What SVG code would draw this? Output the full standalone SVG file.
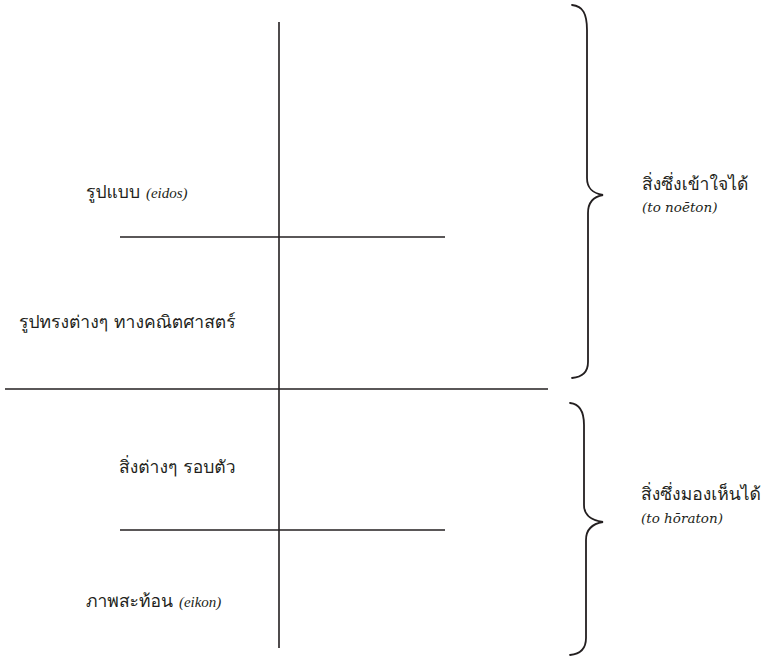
<svg xmlns="http://www.w3.org/2000/svg" width="765" height="658" viewBox="0 0 765 658">
<style>
.ln{stroke:#231f20;stroke-width:1.6;fill:none}
.br{stroke:#231f20;stroke-width:1.8;fill:none;stroke-linecap:round}
.th{font-family:"Loma","Garuda","Norasi","Noto Sans Thai Looped","Noto Serif Thai","Noto Sans Thai","DejaVu Sans",sans-serif;font-size:17.5px;fill:#231f20}
.it{font-family:"Liberation Serif","Times New Roman",serif;font-style:italic;font-size:15px;fill:#231f20}
.it2{font-family:"DejaVu Serif","Liberation Serif",serif;font-style:italic;font-size:13.5px;fill:#231f20}
</style>
<rect width="765" height="658" fill="#ffffff"/>
<g id="connectors">
<line class="ln" x1="279" y1="22" x2="279" y2="648"/>
<line class="ln" x1="120" y1="237" x2="445" y2="237"/>
<line class="ln" x1="5" y1="389" x2="548" y2="389"/>
<line class="ln" x1="120" y1="530" x2="445" y2="530"/>
</g>
<g id="brace-upper">
<path class="br" d="M572,5 C583,6 587,14 587,30 L587,178 C587,188 592,193 603,195 C592,197 588,203 588,213 L588,362 C588,372 583,377 572,378"/>
</g>
<g id="brace-lower">
<path class="br" d="M570,403 C580,404 584,412 584,425 L584,505 C584,515 590,520 603,522 C591,524 586,530 586,540 L586,638 C586,648 581,654 570,655"/>
</g>
<g id="node-eidos">
<text x="86" y="198"><tspan class="th">รูปแบบ </tspan><tspan class="it">(eidos)</tspan></text>
</g>
<g id="node-math">
<text class="th" x="19" y="328">รูปทรงต่างๆ ทางคณิตศาสตร์</text>
</g>
<g id="node-things">
<text class="th" x="119" y="473">สิ่งต่างๆ รอบตัว</text>
</g>
<g id="node-eikon">
<text x="86" y="607"><tspan class="th">ภาพสะท้อน </tspan><tspan class="it">(eikon)</tspan></text>
</g>
<g id="node-noeton">
<text class="th" x="642" y="190">สิ่งซึ่งเข้าใจได้</text>
<text class="it2" x="642" y="212">(to noēton)</text>
</g>
<g id="node-horaton">
<text class="th" x="641" y="500">สิ่งซึ่งมองเห็นได้</text>
<text class="it2" x="641" y="523">(to hōraton)</text>
</g>
</svg>
